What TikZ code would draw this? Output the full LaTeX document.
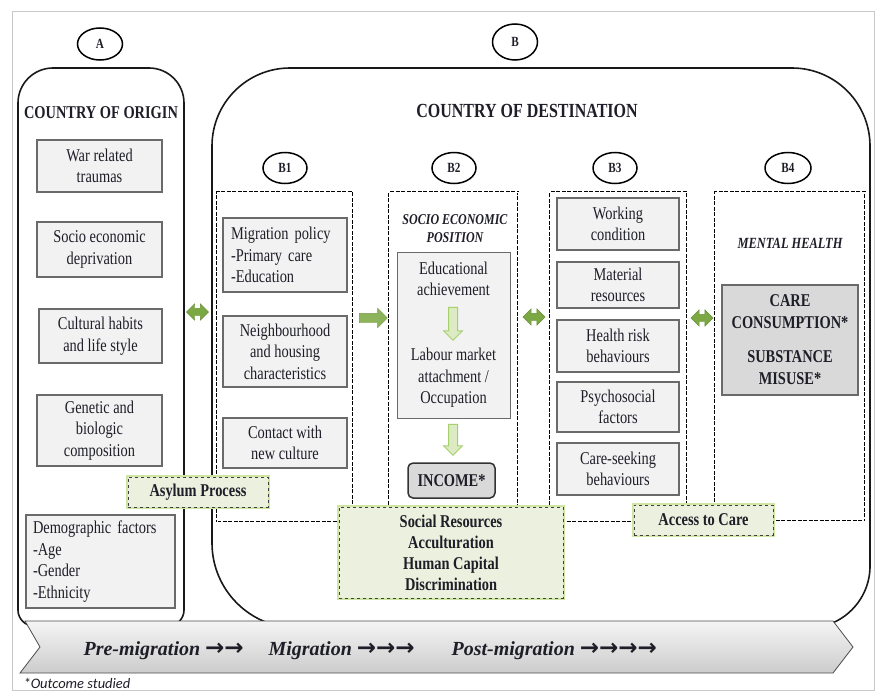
\documentclass[tikz,border=0pt]{standalone}
\usepackage{fontspec}
\setmainfont[FakeStretch=0.8]{Liberation Serif}
\newfontfamily\wideserif{Liberation Serif}
\newfontfamily\notefont{Carlito}
\newfontfamily\arrowfont{DejaVu Sans}
\newcommand\arr[1]{{\arrowfont\bfseries\upshape\fontsize{23}{24}\selectfont #1}}
\usetikzlibrary{shapes.geometric,shapes.arrows}
\definecolor{boxfill}{HTML}{F2F2F2}
\definecolor{boxdraw}{HTML}{6A6A6A}
\definecolor{darkfill}{HTML}{D9D9D9}
\definecolor{greenfill}{HTML}{EBF1DE}
\definecolor{greenglow}{HTML}{CFE6A3}
\definecolor{arrowgreen}{HTML}{7BA843}
\definecolor{arrowmid}{HTML}{8DB45A}
\definecolor{arrowlight}{HTML}{DCEBC3}
\definecolor{arrowlightdraw}{HTML}{A8CF6E}
\definecolor{txt}{HTML}{1E1E28}
\definecolor{framegray}{HTML}{C8C8C8}
\begin{document}
\begin{tikzpicture}[x=1pt,y=-1pt,
  every node/.style={text=txt},
  fs/.style={font=\fontsize{18}{21.5}\selectfont},
  sbox/.style={draw=boxdraw, line width=1.3pt, fill=boxfill, align=center, inner sep=1pt, font=\fontsize{18}{21.5}\selectfont},
  gbox/.style={fill=greenfill, draw=black!75, dashed, line width=0.6pt, align=center, inner sep=1pt,
    font=\bfseries\fontsize{18}{21}\selectfont,
    preaction={draw=greenglow, line width=3.5pt, solid}},
  cont/.style={draw=black, line width=0.75pt, double=white, double distance=0.8pt, dash pattern=on 4pt off 1.5pt, inner sep=0pt},
  lab/.style={ellipse, draw=black, line width=1.5pt, fill=white, inner sep=0pt, font=\bfseries\fontsize{14}{16}\selectfont},
  dblarrow/.style={double arrow, fill=arrowgreen, draw=arrowgreen!85!black, line width=0.4pt, minimum height=22pt, inner sep=3.5pt, double arrow head extend=4.5pt},
  rarrow/.style={single arrow, fill=arrowmid, draw=arrowmid!85!black, line width=0.4pt, minimum height=28pt, inner sep=4.5pt, single arrow head extend=5pt},
  darrow/.style={single arrow, shape border rotate=270, fill=arrowlight, draw=arrowlightdraw, line width=1pt, inner sep=4pt, single arrow head extend=5pt},
  banner/.style={anchor=base west, font=\wideserif\bfseries\itshape\fontsize{20}{24}\selectfont}
]
\useasboundingbox (0,0) rectangle (877,693);
\fill[white] (0,0) rectangle (877,693);
\draw[framegray, line width=1pt] (12,12) rectangle (874,690);

% big containers
\draw[black!90, line width=1.6pt] (100,68) [rounded corners=35pt] -- (184,68) -- (184,300) [rounded corners=16pt] -- (184,626) -- (18,626) -- (18,300) [rounded corners=35pt] -- (18,68) -- cycle;
\draw[black!90, line width=1.6pt] (540,68) [rounded corners=78pt] -- (870,68) -- (870,350) [rounded corners=62pt] -- (870,628) -- (540,628) [rounded corners=85pt] -- (212,628) -- (212,350) [rounded corners=78pt] -- (212,68) -- cycle;

% circle labels
\node[lab, minimum width=45pt, minimum height=32pt] (la) at (100,44) {A};
\node[lab, minimum width=45pt, minimum height=36pt] (lb) at (515,42) {B};
\node[lab, minimum width=44pt, minimum height=31pt] (lb1) at (285,168) {B1};
\node[lab, minimum width=44pt, minimum height=31pt] (lb2) at (454,168) {B2};
\node[lab, minimum width=44pt, minimum height=31pt] (lb3) at (615,168) {B3};
\node[lab, minimum width=46pt, minimum height=31pt] (lb4) at (788,168) {B4};

% headings
\node[font=\bfseries\fontsize{18}{21}\selectfont] (hA) at (101,113) {COUNTRY OF ORIGIN};
\node[font=\bfseries\fontsize{20}{24}\selectfont] (hB) at (527,111) {COUNTRY OF DESTINATION};

% column A
\node[sbox, minimum width=125pt, minimum height=52pt] (war) at (99.5,166) {War related\\traumas};
\node[sbox, minimum width=125pt, minimum height=55pt] (socio) at (99.5,249.5) {Socio economic\\deprivation};
\node[sbox, minimum width=123pt, minimum height=54pt] (cult) at (100.5,336) {Cultural habits\\and life style};
\node[sbox, minimum width=125pt, minimum height=71pt] (gen) at (99.5,430.5) {Genetic and\\biologic\\composition};
\node[sbox, text width=135pt, align=left, inner xsep=7pt, minimum height=93pt] (demo) at (100.5,561.5) {Demographic factors\\-Age\\-Gender\\-Ethnicity};

% dashed containers
\node[cont, minimum width=136pt, minimum height=330pt] (c1) at (285,357) {};
\node[cont, minimum width=129pt, minimum height=330pt] (c2) at (453.5,357) {};
\node[cont, minimum width=137pt, minimum height=330pt] (c3) at (618.5,357) {};
\node[cont, minimum width=150pt, minimum height=329pt] (c4) at (790,356.5) {};

% B1
\node[sbox, text width=108pt, align=left, inner xsep=8pt, minimum height=74pt] (mig) at (285,255) {Migration policy\\-Primary care\\-Education};
\node[sbox, minimum width=124pt, minimum height=71pt] (nei) at (285,351.5) {Neighbourhood\\and housing\\characteristics};
\node[sbox, minimum width=124pt, minimum height=50pt] (con) at (285,443) {Contact with\\new culture};

% B2
\node[font=\bfseries\itshape\fontsize{15}{18}\selectfont, align=center] (sep) at (455,229) {SOCIO ECONOMIC\\POSITION};
\node[draw=boxdraw, line width=1pt, fill=boxfill, minimum width=113pt, minimum height=166pt, inner sep=0pt] (sepbox) at (453.5,335) {};
\node[fs, align=center] (edu) at (453.5,279) {Educational\\achievement};
\node[darrow, minimum height=33pt] (ar1) at (453,321.5) {};
\node[fs, align=center] (labour) at (453.5,378) {Labour market\\attachment /\\Occupation};
\node[darrow, minimum height=31pt] (ar2) at (453,437.5) {};
\node[draw=black!80, line width=1.5pt, fill=darkfill, rounded corners=5pt, minimum width=87pt, minimum height=35pt, inner sep=0pt, font=\bfseries\fontsize{18}{21}\selectfont] (inc) at (451.5,480.5) {INCOME*};

% B3
\node[sbox, minimum width=122pt, minimum height=52pt] (work) at (618,224) {Working\\condition};
\node[sbox, minimum width=122pt, minimum height=46pt] (mat) at (618,285) {Material\\resources};
\node[sbox, minimum width=122pt, minimum height=52pt] (risk) at (618,346) {Health risk\\behaviours};
\node[sbox, minimum width=122pt, minimum height=50pt] (psy) at (618,407) {Psychosocial\\factors};
\node[sbox, minimum width=122pt, minimum height=52pt] (care) at (618,469) {Care-seeking\\behaviours};

% B4
\node[font=\bfseries\itshape\fontsize{15.5}{18}\selectfont] (mh) at (790,243) {MENTAL HEALTH};
\node[draw=boxdraw, line width=1.3pt, fill=darkfill, minimum width=136pt, minimum height=110pt, inner sep=0pt, align=center, font=\bfseries\fontsize{18}{22}\selectfont] (cc) at (790,340) {CARE\\CONSUMPTION*\\[12pt]SUBSTANCE\\MISUSE*};

% arrows between columns
\node[dblarrow, minimum height=22pt] (d1) at (197.5,312) {};
\node[rarrow] (r1) at (371,318) {};
\node[dblarrow] (d2) at (534,317) {};
\node[dblarrow] (d3) at (702,318) {};

% green boxes
\node[gbox, minimum width=140pt, minimum height=30pt] (asy) at (198,492) {Asylum Process};
\node[gbox, minimum width=224pt, minimum height=91pt] (soc) at (451,552.5) {Social Resources\\Acculturation\\Human Capital\\Discrimination};
\node[gbox, minimum width=139pt, minimum height=30pt] (acc) at (703.5,520) {Access to Care};

% banner
\shade[top color=gray!8, bottom color=gray!40, draw=gray!60!black, line width=0.8pt] (25,621) -- (833,621) -- (853,647) -- (833,673) -- (20,673) -- (40,647) -- cycle;
\node[banner] (pre) at (80,655) {Pre-migration \arr{→→}};
\node[banner] (migr) at (265,655) {Migration \arr{→→→}};
\node[banner] (post) at (448,655) {Post-migration \arr{→→→→}};

\node[anchor=west, font=\notefont\itshape\fontsize{14.5}{16}\selectfont] (note) at (20,683) {*Outcome studied};
\end{tikzpicture}
\end{document}
